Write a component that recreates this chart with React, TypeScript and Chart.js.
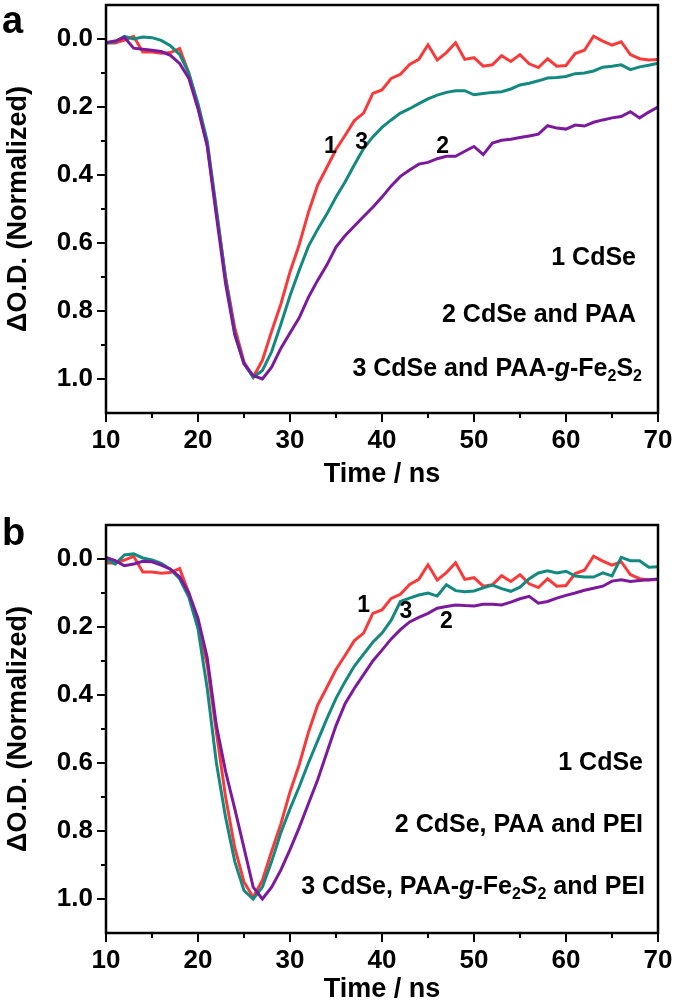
import React, { useEffect, useRef } from 'react';
import { Chart, registerables } from 'chart.js';

Chart.register(...registerables);

const FONT = '"Liberation Sans", Arial, Helvetica, sans-serif';

// Time axis (ns)
const timeNs = [
  10, 11, 12, 13, 14, 15, 16, 17, 18, 19,
  20, 21, 22, 23, 24, 25, 26, 27, 28, 29,
  30, 31, 32, 33, 34, 35, 36, 37, 38, 39,
  40, 41, 42, 43, 44, 45, 46, 47, 48, 49,
  50, 51, 52, 53, 54, 55, 56, 57, 58, 59,
  60, 61, 62, 63, 64, 65, 66, 67, 68, 69, 70,
];

// 1 CdSe (red, both panels)
const cdse = [
  0.012, 0.012, 0.003, -0.008, 0.038, 0.038, 0.042, 0.040, 0.028, 0.100,
  0.200, 0.310, 0.510, 0.700, 0.850, 0.950, 0.995, 0.945, 0.860, 0.780,
  0.685, 0.605, 0.510, 0.430, 0.378, 0.325, 0.283, 0.240, 0.218, 0.160,
  0.150, 0.116, 0.104, 0.075, 0.060, 0.017, 0.062, 0.040, 0.011, 0.060,
  0.055, 0.080, 0.076, 0.049, 0.066, 0.046, 0.073, 0.084, 0.058, 0.080,
  0.078, 0.043, 0.033, -0.008, 0.006, 0.018, 0.008, 0.046, 0.058, 0.062, 0.060,
];

// Panel a: 2 CdSe and PAA (purple)
const cdsePaa = [
  0.010, 0.006, -0.005, 0.027, 0.030, 0.033, 0.037, 0.048, 0.072, 0.115,
  0.205, 0.315, 0.520, 0.720, 0.870, 0.955, 0.990, 1.000, 0.965, 0.910,
  0.865, 0.820, 0.760, 0.710, 0.665, 0.612, 0.578, 0.550, 0.522, 0.495,
  0.465, 0.432, 0.404, 0.385, 0.368, 0.363, 0.352, 0.345, 0.345, 0.330,
  0.316, 0.340, 0.306, 0.298, 0.295, 0.290, 0.285, 0.280, 0.255, 0.262,
  0.265, 0.253, 0.256, 0.245, 0.238, 0.232, 0.228, 0.214, 0.232, 0.215, 0.200,
];

// Panel a: 3 CdSe and PAA-g-Fe2S2 (teal)
const cdsePaaFe = [
  0.012, 0.008, -0.008, 0.000, -0.006, -0.004, 0.004, 0.020, 0.045, 0.100,
  0.190, 0.300, 0.500, 0.705, 0.865, 0.955, 0.995, 0.975, 0.920, 0.840,
  0.755, 0.680, 0.610, 0.560, 0.515, 0.465, 0.420, 0.370, 0.322, 0.288,
  0.260, 0.238, 0.218, 0.205, 0.190, 0.176, 0.165, 0.157, 0.152, 0.152,
  0.164, 0.160, 0.157, 0.155, 0.147, 0.135, 0.130, 0.123, 0.115, 0.113,
  0.110, 0.102, 0.100, 0.094, 0.083, 0.080, 0.076, 0.090, 0.082, 0.077, 0.071,
];

// Panel b: 2 CdSe, PAA and PEI (purple)
const cdsePaaPei = [
  -0.005, 0.005, 0.020, 0.015, 0.007, 0.008, 0.018, 0.030, 0.052, 0.100,
  0.175, 0.290, 0.490, 0.625, 0.735, 0.850, 0.965, 1.000, 0.965, 0.915,
  0.855, 0.790, 0.720, 0.650, 0.570, 0.490, 0.425, 0.380, 0.340, 0.300,
  0.268, 0.235, 0.208, 0.185, 0.172, 0.160, 0.145, 0.140, 0.135, 0.137,
  0.138, 0.133, 0.133, 0.135, 0.127, 0.117, 0.110, 0.130, 0.125, 0.115,
  0.107, 0.100, 0.092, 0.086, 0.080, 0.065, 0.061, 0.066, 0.063, 0.061, 0.059,
];

// Panel b: 3 CdSe, PAA-g-Fe2S2 and PEI (teal)
const cdsePaaFePei = [
  0.000, 0.015, -0.012, -0.015, -0.003, 0.003, 0.013, 0.030, 0.058, 0.112,
  0.205, 0.380, 0.600, 0.760, 0.890, 0.975, 1.000, 0.965, 0.890, 0.805,
  0.735, 0.670, 0.600, 0.535, 0.470, 0.410, 0.360, 0.315, 0.280, 0.245,
  0.218, 0.180, 0.125, 0.115, 0.106, 0.100, 0.109, 0.076, 0.093, 0.096,
  0.094, 0.085, 0.077, 0.087, 0.095, 0.083, 0.058, 0.041, 0.035, 0.041,
  0.036, 0.050, 0.053, 0.053, 0.041, 0.050, -0.005, 0.005, 0.005, 0.024, 0.023,
];

const xTickValues = [10, 20, 30, 40, 50, 60, 70];
const xMinorValues = [15, 25, 35, 45, 55, 65];
const yTickValues = [0, 0.2, 0.4, 0.6, 0.8, 1.0];
const yMinorValues = [0.1, 0.3, 0.5, 0.7, 0.9];

// curve number labels (data coordinates)
const curveLabelsA = [
  { text: '1', t: 34.4, v: 0.316 },
  { text: '3', t: 37.8, v: 0.305 },
  { text: '2', t: 46.6, v: 0.317 },
];
const curveLabelsB = [
  { text: '1', t: 38.0, v: 0.137 },
  { text: '3', t: 42.6, v: 0.155 },
  { text: '2', t: 47.0, v: 0.184 },
];

type Seg = { t: string; it?: boolean; sub?: boolean };

const legendA: Seg[][] = [
  [{ t: '1 CdSe' }],
  [{ t: '2 CdSe and PAA' }],
  [{ t: '3 CdSe and PAA-' }, { t: 'g', it: true }, { t: '-Fe' }, { t: '2', sub: true }, { t: 'S' }, { t: '2', sub: true }],
];
const legendB: Seg[][] = [
  [{ t: '1 CdSe' }],
  [{ t: '2 CdSe, PAA and PEI' }],
  [
    { t: '3 CdSe, PAA-' }, { t: 'g', it: true }, { t: '-Fe' }, { t: '2', sub: true },
    { t: 'S', it: true }, { t: '2', sub: true }, { t: ' and PEI' },
  ],
];

const COLORS = { red: '#f83a3a', teal: '#13897f', purple: '#7b1a9d' };

function drawRich(ctx: CanvasRenderingContext2D, segs: Seg[], right: number, y: number, size: number) {
  const fontFor = (s: Seg) =>
    `${s.it ? 'italic ' : ''}bold ${s.sub ? Math.round(size * 0.62) : size}px ${FONT}`;
  const widths = segs.map((s) => {
    ctx.font = fontFor(s);
    return ctx.measureText(s.t).width;
  });
  const total = widths.reduce((a, b) => a + b, 0);
  let x = right - total;
  ctx.textAlign = 'left';
  ctx.textBaseline = 'middle';
  segs.forEach((s, i) => {
    ctx.font = fontFor(s);
    ctx.fillText(s.t, x, s.sub ? y + size * 0.32 : y);
    x += widths[i];
  });
}

const decorPlugin = {
  id: 'panelDecor',
  afterDraw(chart: any, _args: any, o: any) {
    const { ctx, chartArea: ca, scales } = chart;
    const xs = scales.x;
    const ys = scales.y;
    ctx.save();
    ctx.strokeStyle = '#000';
    ctx.lineWidth = 2.5;
    ctx.strokeRect(ca.left, ca.top, ca.right - ca.left, ca.bottom - ca.top);
    ctx.lineWidth = 2;
    ctx.beginPath();
    for (const v of xMinorValues) {
      const px = xs.getPixelForValue(v);
      ctx.moveTo(px, ca.bottom);
      ctx.lineTo(px, ca.bottom + 5);
    }
    for (const v of yMinorValues) {
      const py = ys.getPixelForValue(v);
      ctx.moveTo(ca.left, py);
      ctx.lineTo(ca.left - 5, py);
    }
    ctx.stroke();

    ctx.fillStyle = '#000';
    ctx.font = `bold 23px ${FONT}`;
    ctx.textAlign = 'center';
    ctx.textBaseline = 'middle';
    for (const l of o.curveLabels) {
      ctx.fillText(l.text, xs.getPixelForValue(l.t), ys.getPixelForValue(l.v));
    }

    o.legend.forEach((segs: Seg[], i: number) => {
      drawRich(ctx, segs, o.legendRight[i], ca.top + o.legendY[i], 25);
    });

    ctx.font = `bold 38px ${FONT}`;
    ctx.textAlign = 'left';
    ctx.textBaseline = 'alphabetic';
    ctx.fillText(o.letter, 2, o.letterBaseline);
    ctx.restore();
  },
};

type PanelSpec = {
  purple: number[];
  teal: number[];
  padTop: number;
  xAxisHeight: number;
  xTitlePad: number;
  letter: string;
  letterBaseline: number;
  legend: Seg[][];
  legendRight: number[];
  legendY: number[];
  curveLabels: { text: string; t: number; v: number }[];
};

function makeConfig(p: PanelSpec): any {
  const toPts = (arr: number[]) => timeNs.map((t, i) => ({ x: t, y: arr[i] }));
  const ds = (label: string, arr: number[], color: string) => ({
    label,
    data: toPts(arr),
    borderColor: color,
    backgroundColor: color,
    borderWidth: 3,
    pointRadius: 0,
    tension: 0,
    fill: false,
  });
  const tickFont = { family: FONT, size: 26, weight: 'bold' as const };
  const titleFont = { family: FONT, size: 27, weight: 'bold' as const };
  return {
    type: 'line',
    data: {
      datasets: [
        ds('purple', p.purple, COLORS.purple),
        ds('teal', p.teal, COLORS.teal),
        ds('red', cdse, COLORS.red),
      ],
    },
    options: {
      animation: false,
      responsive: false,
      events: [],
      layout: { padding: { left: 0, right: 17, top: p.padTop, bottom: 0 } },
      plugins: {
        legend: { display: false },
        tooltip: { enabled: false },
        panelDecor: {
          letter: p.letter,
          letterBaseline: p.letterBaseline,
          legend: p.legend,
          legendRight: p.legendRight,
          legendY: p.legendY,
          curveLabels: p.curveLabels,
        },
      },
      scales: {
        x: {
          type: 'linear',
          min: 10,
          max: 70,
          afterBuildTicks: (s: any) => {
            s.ticks = xTickValues.map((value) => ({ value }));
          },
          afterFit: (s: any) => {
            s.height = p.xAxisHeight;
            s.paddingLeft = 0;
            s.paddingRight = 0;
            s.paddingTop = 0;
            s.paddingBottom = 0;
          },
          ticks: {
            color: '#000',
            font: tickFont,
            padding: 3,
            maxRotation: 0,
            autoSkip: false,
            callback: (v: any) => String(v),
          },
          grid: {
            display: true,
            drawOnChartArea: false,
            drawTicks: true,
            tickLength: 9,
            color: '#000',
            lineWidth: 2,
          },
          border: { display: false },
          title: {
            display: true,
            text: 'Time / ns',
            color: '#000',
            font: titleFont,
            padding: { top: 0, bottom: p.xTitlePad },
          },
        },
        y: {
          type: 'linear',
          reverse: true,
          min: -0.1,
          max: 1.1,
          afterBuildTicks: (s: any) => {
            s.ticks = yTickValues.map((value) => ({ value }));
          },
          afterFit: (s: any) => {
            s.width = 106;
            s.paddingLeft = 0;
            s.paddingRight = 0;
            s.paddingTop = 0;
            s.paddingBottom = 0;
          },
          ticks: {
            color: '#000',
            font: tickFont,
            padding: 4,
            autoSkip: false,
            callback: (v: any) => Number(v).toFixed(1),
          },
          grid: {
            display: true,
            drawOnChartArea: false,
            drawTicks: true,
            tickLength: 9,
            color: '#000',
            lineWidth: 2,
          },
          border: { display: false },
          title: {
            display: true,
            text: '\u0394O.D. (Normalized)',
            color: '#000',
            font: titleFont,
            padding: { top: 2, bottom: 0 },
          },
        },
      },
    },
    plugins: [decorPlugin],
  };
}

const panelA: PanelSpec = {
  purple: cdsePaa,
  teal: cdsePaaFe,
  padTop: 5,
  xAxisHeight: 87,
  xTitlePad: 9,
  letter: 'a',
  letterBaseline: 33,
  legend: legendA,
  legendRight: [636, 636, 642],
  legendY: [253, 310.5, 364],
  curveLabels: curveLabelsA,
};

const panelB: PanelSpec = {
  purple: cdsePaaPei,
  teal: cdsePaaFePei,
  padTop: 25,
  xAxisHeight: 74,
  xTitlePad: 1,
  letter: 'b',
  letterBaseline: 45,
  legend: legendB,
  legendRight: [643, 643, 645],
  legendY: [238.5, 300, 362],
  curveLabels: curveLabelsB,
};

export default function App() {
  const refA = useRef<HTMLCanvasElement | null>(null);
  const refB = useRef<HTMLCanvasElement | null>(null);

  useEffect(() => {
    const charts: Chart[] = [];
    if (refA.current) charts.push(new Chart(refA.current, makeConfig(panelA)));
    if (refB.current) charts.push(new Chart(refB.current, makeConfig(panelB)));
    return () => charts.forEach((c) => c.destroy());
  }, []);

  return (
    <div style={{ position: 'absolute', left: 0, top: 0, width: 675, height: 1007, background: '#fff', overflow: 'hidden' }}>
      <canvas ref={refA} width={675} height={500} style={{ position: 'absolute', left: 0, top: 0, width: 675, height: 500 }} />
      <canvas ref={refB} width={675} height={507} style={{ position: 'absolute', left: 0, top: 500, width: 675, height: 507 }} />
    </div>
  );
}
